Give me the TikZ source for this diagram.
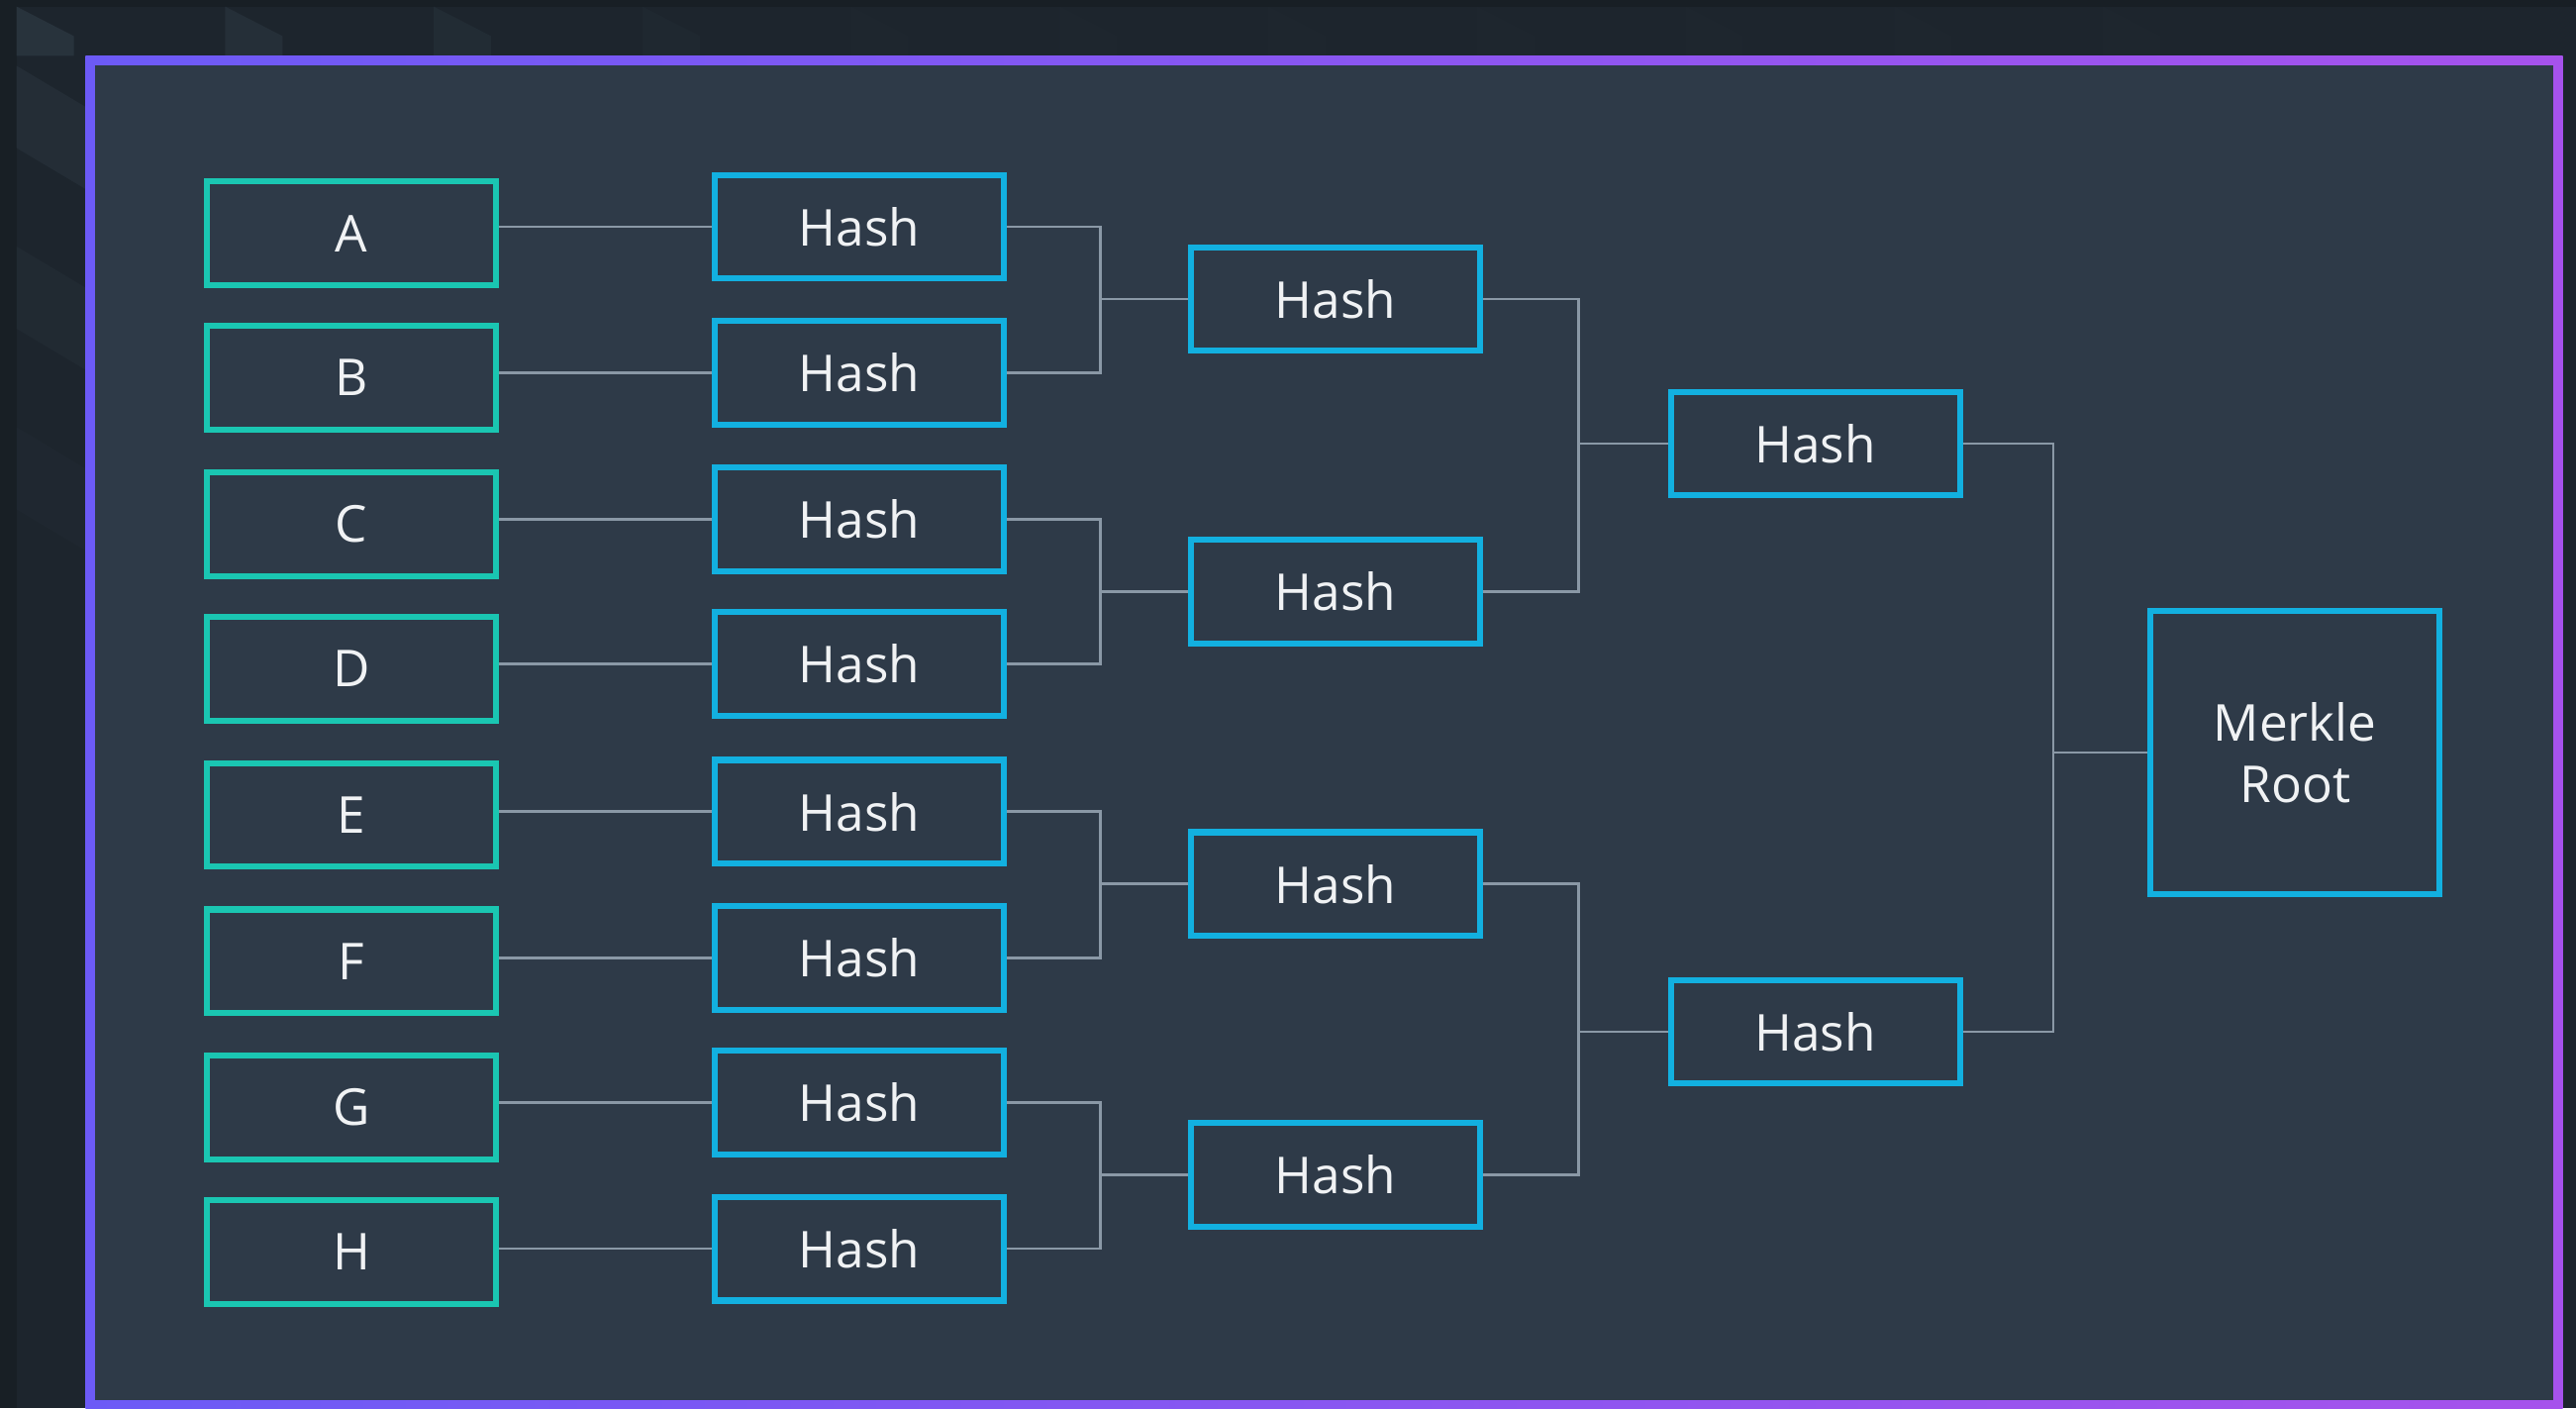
\documentclass[tikz,border=0pt]{standalone}
\usepackage{fontspec}
\setmainfont{Open Sans}
\usetikzlibrary{positioning, calc, backgrounds}
\definecolor{pagebg}{RGB}{29,37,45}
\definecolor{edgebg}{RGB}{24,31,37}
\definecolor{cubelite}{RGB}{58,72,84}
\definecolor{panelbg}{RGB}{46,58,72}
\definecolor{frameleft}{RGB}{108,90,246}
\definecolor{frameright}{RGB}{166,82,236}
\definecolor{leafc}{RGB}{26,198,178}
\definecolor{hashc}{RGB}{18,176,224}
\definecolor{wire}{RGB}{138,152,166}
\definecolor{label}{RGB}{240,242,244}

\begin{document}
\begin{tikzpicture}[
    x=0.1mm, y=-0.1mm,
    box/.style={draw, line width=1.05pt, minimum width=1.76cm, minimum height=0.63cm,
                inner sep=0pt, text=label, font=\fontsize{8.8}{10.7}\selectfont},
    leaf/.style={box, draw=leafc},
    hashbox/.style={box, draw=hashc},
    rootbox/.style={box, draw=hashc, minimum height=1.72cm, align=center},
    wirel/.style={draw=wire, line width=0.45pt},
]

\useasboundingbox (0,0) rectangle (1568,857);

% ===== Backdrop =====
\fill[pagebg] (0,0) rectangle (1568,857);
\fill[edgebg] (0,0) rectangle (10,857);
\fill[edgebg] (0,0) rectangle (1568,4);
% cube facets in the top strip, fading to the right
\foreach \k in {0,...,10}{
  \pgfmathsetmacro\op{max(0.04, 0.4-0.1*\k)}
  \fill[cubelite, opacity=\op] (10+127*\k,4) -- (45+127*\k,22) -- (45+127*\k,34) -- (10+127*\k,34) -- cycle;
}
% cube facets in the left strip
\foreach \yy/\op in {40/0.25, 150/0.15, 260/0.08}{
  \fill[cubelite, opacity=\op] (10,\yy) -- (52,\yy+25) -- (52,\yy+75) -- (10,\yy+50) -- cycle;
}

% ===== Frame =====
\shade[left color=frameleft, right color=frameright] (52,34) rectangle (1560,858);
\fill[panelbg] (58,40) rectangle (1554,852);

% ===== Leaves and first hashes =====
\foreach \n/\ly/\hy in {A/142/138, B/230/227, C/319/316, D/407/404,
                        E/496/494, F/585/583, G/674/671, H/762/760}{
  \node[leaf] (\n) at (214,\ly) {\n};
  \node[hashbox] (h\n) at (523,\hy) {Hash};
  \draw[wirel] (\n.east |- h\n.west) -- (h\n.west);
}

% ===== Second level =====
\foreach \a/\b/\y in {A/B/182, C/D/360, E/F/538, G/H/715}{
  \node[hashbox] (h\a\b) at (813,\y) {Hash};
  \draw[wirel] (h\a.east) -- ++(57,0) |- (h\a\b.west);
  \draw[wirel] (h\b.east) -- ++(57,0) |- (h\a\b.west);
}

% ===== Third level =====
\node[hashbox] (hABCD) at (1105,270) {Hash};
\node[hashbox] (hEFGH) at (1105,628) {Hash};
\draw[wirel] (hAB.east) -- ++(58,0) |- (hABCD.west);
\draw[wirel] (hCD.east) -- ++(58,0) |- (hABCD.west);
\draw[wirel] (hEF.east) -- ++(58,0) |- (hEFGH.west);
\draw[wirel] (hGH.east) -- ++(58,0) |- (hEFGH.west);

% ===== Root =====
\node[rootbox] (root) at (1397,458) {Merkle\\Root};
\draw[wirel] (hABCD.east) -- ++(55,0) |- (root.west);
\draw[wirel] (hEFGH.east) -- ++(55,0) |- (root.west);

\end{tikzpicture}
\end{document}
